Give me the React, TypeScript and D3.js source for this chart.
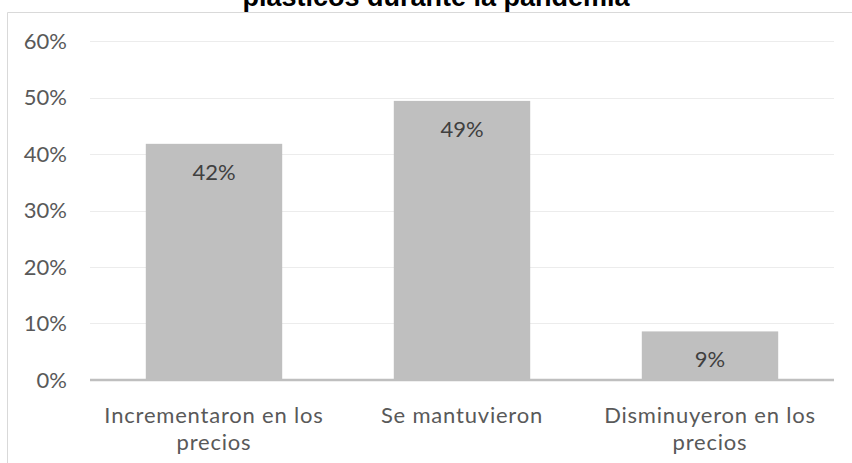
import React from "react";
import * as d3 from "d3";

const categories: string[][] = [
  ["Incrementaron en los", "precios"],
  ["Se mantuvieron"],
  ["Disminuyeron en los", "precios"],
];
const values: number[] = [0.418, 0.494, 0.086];
const valueLabels: string[] = ["42%", "49%", "9%"];
const yTicks: number[] = [0, 0.1, 0.2, 0.3, 0.4, 0.5, 0.6];
const titleLine = "plásticos durante la pandemia";

const W = 852;
const H = 463;
const FONT = "Lato, 'Open Sans', sans-serif";

export default function App() {
  const x = d3
    .scaleBand<number>()
    .domain(values.map((_, i) => i))
    .range([90, 834])
    .paddingInner(0.45)
    .paddingOuter(0.225);
  const y = d3.scaleLinear().domain([0, 0.6]).range([380, 41]);
  const fmt = d3.format(".0%");

  return (
    <svg
      width={W}
      height={H}
      style={{ position: "absolute", left: 0, top: 0, background: "#fff" }}
    >
      <rect x={0} y={0} width={W} height={H} fill="#fff" />
      {/* title (second line visible) */}
      <text
        x={436}
        y={6}
        textAnchor="middle"
        fontFamily="'Liberation Sans', Arial, sans-serif"
        fontWeight="bold"
        fontSize={27}
        fill="#000"
      >
        {titleLine}
      </text>
      <rect x={7} y={12} width={W} height={H} fill="#fff" />
      {/* frame */}
      <line x1={7.5} x2={W} y1={12.5} y2={12.5} stroke="#d9d9d9" strokeWidth={1} />
      <line x1={7.5} x2={7.5} y1={12.5} y2={H} stroke="#d9d9d9" strokeWidth={1} />
      {/* gridlines */}
      {yTicks.slice(1).map((t) => (
        <line
          key={t}
          x1={90}
          x2={834}
          y1={Math.round(y(t)) + 0.5}
          y2={Math.round(y(t)) + 0.5}
          stroke="#ececec"
          strokeWidth={1}
        />
      ))}
      {/* y tick labels */}
      {yTicks.map((t) => (
        <text
          key={t}
          x={67}
          y={y(t)}
          dy="0.35em"
          textAnchor="end"
          fontFamily={FONT}
          fontSize={22}
          fill="#595959"
        >
          {fmt(t)}
        </text>
      ))}
      {/* bars */}
      {values.map((v, i) => (
        <rect
          key={i}
          x={x(i)}
          y={y(v)}
          width={x.bandwidth()}
          height={y(0) - y(v)}
          fill="#bfbfbf"
        />
      ))}
      {/* baseline */}
      <line x1={90} x2={834} y1={380} y2={380} stroke="#bfbfbf" strokeWidth={2.5} />
      {/* value labels */}
      {values.map((v, i) => (
        <text
          key={i}
          x={(x(i) as number) + x.bandwidth() / 2}
          y={y(v) + 28}
          dy="0.35em"
          textAnchor="middle"
          fontFamily={FONT}
          fontSize={22}
          fill="#404040"
        >
          {valueLabels[i]}
        </text>
      ))}
      {/* category labels */}
      {categories.map((lines, i) => (
        <text
          key={i}
          textAnchor="middle"
          fontFamily={FONT}
          fontSize={22}
          letterSpacing={0.8}
          fill="#595959"
        >
          {lines.map((l, j) => (
            <tspan
              key={j}
              x={(x(i) as number) + x.bandwidth() / 2}
              y={423 + j * 27}
            >
              {l}
            </tspan>
          ))}
        </text>
      ))}
    </svg>
  );
}
